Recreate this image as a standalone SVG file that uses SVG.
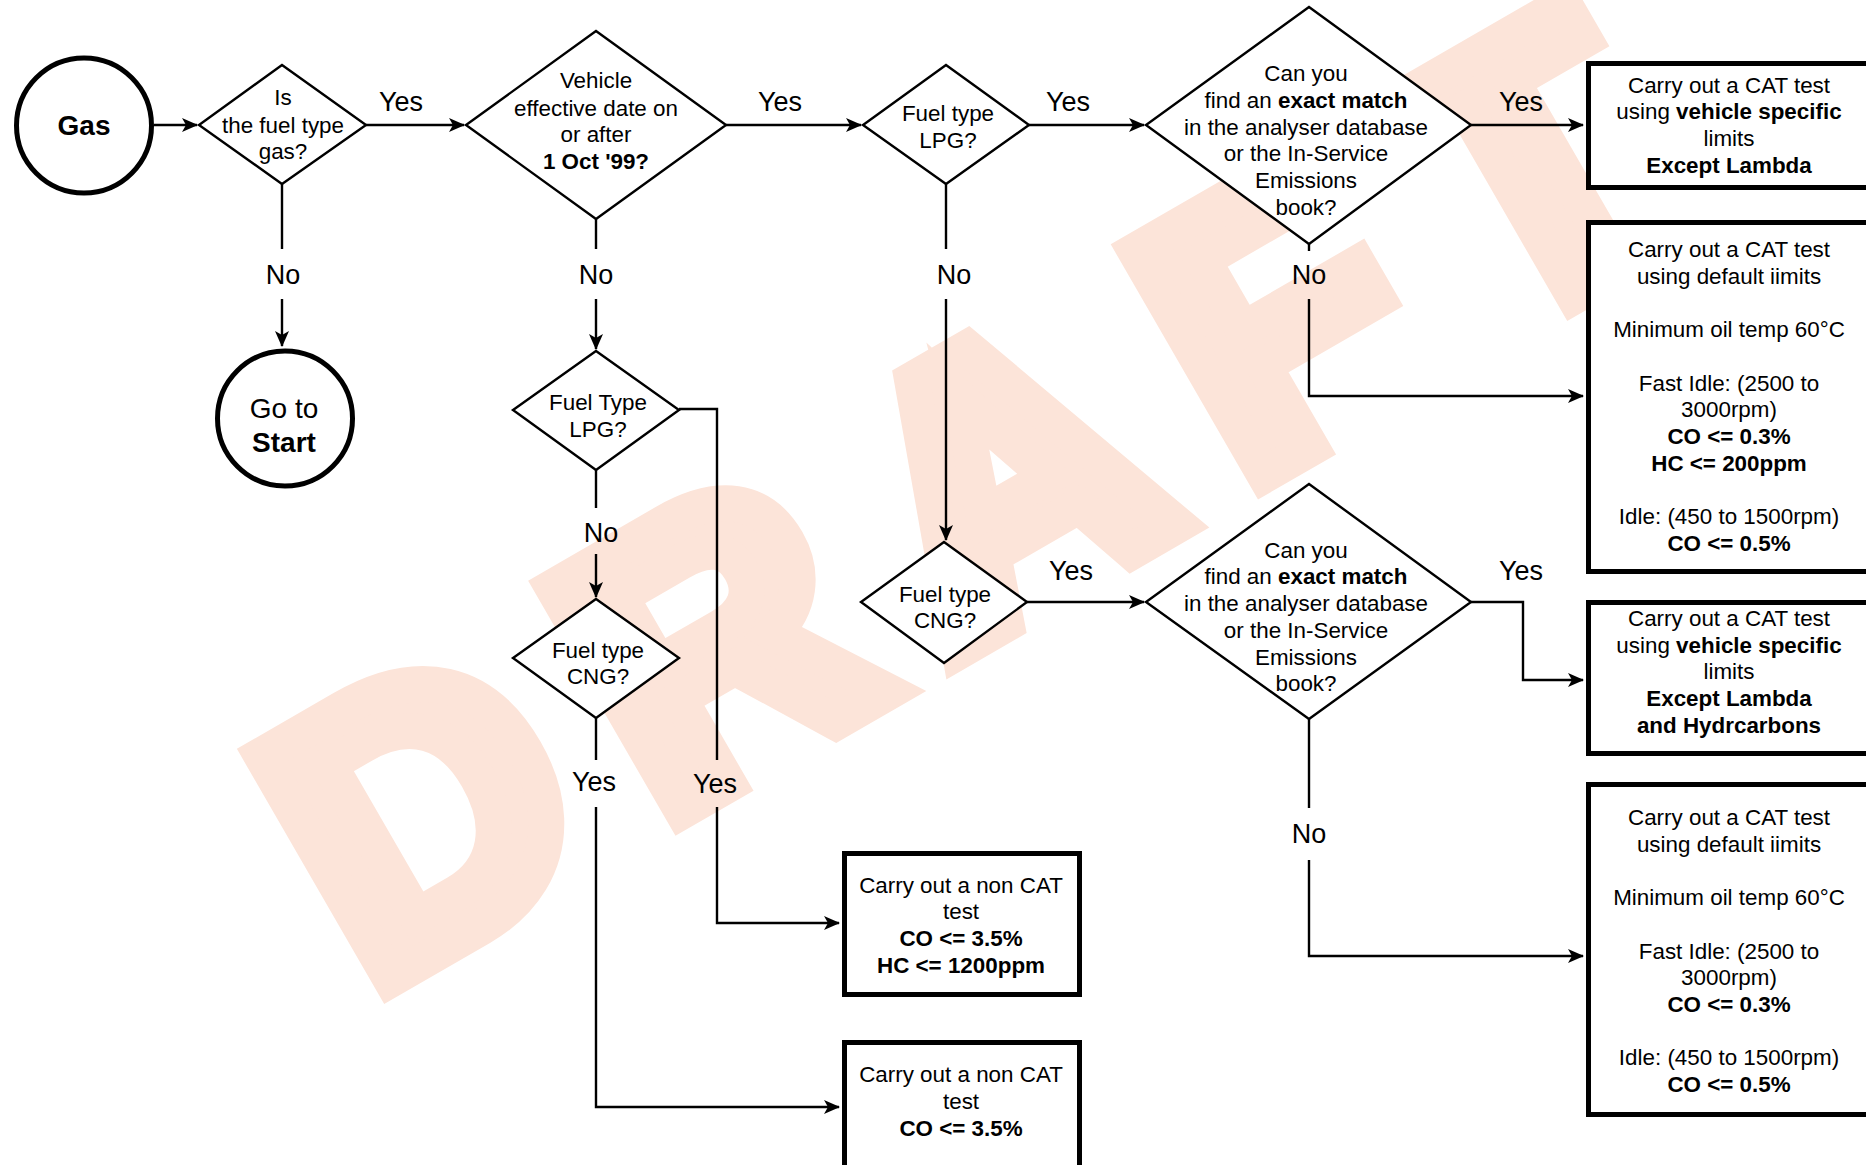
<svg xmlns="http://www.w3.org/2000/svg" width="1866" height="1165" viewBox="0 0 1866 1165">
<defs>
<style>
text{font-family:"Liberation Sans",Arial,Helvetica,sans-serif;fill:#000;text-anchor:middle}
.t{font-size:22.4px}
.lbl{font-size:27px}
.big{font-size:28px}
.b{font-weight:bold}
.dia{fill:#fff;stroke:#000;stroke-width:2.4}
.circ{fill:#fff;stroke:#000;stroke-width:5}
.box{fill:#fff;stroke:#000;stroke-width:5}
.conn path{fill:none;stroke:#000;stroke-width:2.4}
.wm{font-size:376px;font-weight:bold;fill:#fce4d9;stroke:#fce4d9;stroke-width:36;stroke-linejoin:miter;text-anchor:start;letter-spacing:64.8px}
</style>
<marker id="arr" viewBox="0 0 16 14" refX="15" refY="7" markerWidth="16" markerHeight="14" markerUnits="userSpaceOnUse" orient="auto">
<path d="M0,0 L16,7 L0,14 L4,7 Z" fill="#000"/>
</marker>
</defs>
<rect width="1866" height="1165" fill="#fff"/>
<text class="wm" transform="translate(369,992) rotate(-30)">DRAFT</text>

<g class="conn">
<path d="M154,125 H197" marker-end="url(#arr)"/>
<path d="M366,125 H464" marker-end="url(#arr)"/>
<path d="M726,125 H861" marker-end="url(#arr)"/>
<path d="M1029,125 H1144" marker-end="url(#arr)"/>
<path d="M1471,125 H1583" marker-end="url(#arr)"/>
<path d="M282,184 V249"/>
<path d="M282,299 V346" marker-end="url(#arr)"/>
<path d="M596,219 V249"/>
<path d="M596,299 V349" marker-end="url(#arr)"/>
<path d="M946,184 V249"/>
<path d="M946,299 V540" marker-end="url(#arr)"/>
<path d="M1309,244 V251"/>
<path d="M1309,299 V396 H1583" marker-end="url(#arr)"/>
<path d="M679,409 H717 V760"/>
<path d="M717,807 V923 H839" marker-end="url(#arr)"/>
<path d="M596,470 V508"/>
<path d="M596,554 V597" marker-end="url(#arr)"/>
<path d="M596,718 V760"/>
<path d="M596,807 V1107 H839" marker-end="url(#arr)"/>
<path d="M1027,602 H1144" marker-end="url(#arr)"/>
<path d="M1471,602 H1523 V680 H1583" marker-end="url(#arr)"/>
<path d="M1309,719 V808"/>
<path d="M1309,860 V956 H1583" marker-end="url(#arr)"/>
</g>

<g id="labels">
<text class="lbl" x="401" y="111">Yes</text>
<text class="lbl" x="780" y="111">Yes</text>
<text class="lbl" x="1068" y="111">Yes</text>
<text class="lbl" x="1521" y="111">Yes</text>
<text class="lbl" x="283" y="284">No</text>
<text class="lbl" x="596" y="284">No</text>
<text class="lbl" x="954" y="284">No</text>
<text class="lbl" x="1309" y="284">No</text>
<text class="lbl" x="601" y="542">No</text>
<text class="lbl" x="594" y="791">Yes</text>
<text class="lbl" x="715" y="793">Yes</text>
<text class="lbl" x="1071" y="580">Yes</text>
<text class="lbl" x="1521" y="580">Yes</text>
<text class="lbl" x="1309" y="843">No</text>
</g>

<g id="gas">
<circle class="circ" cx="84" cy="125.5" r="67.5"/>
<text class="big b" x="84" y="135">Gas</text>
</g>

<g id="start">
<circle class="circ" cx="285" cy="418.5" r="67.5"/>
<text class="big" x="284" y="418">Go to</text>
<text class="big b" x="284" y="452">Start</text>
</g>

<g id="q-gas">
<polygon class="dia" points="282,65 366,125 282,184 199,125"/>
<text class="t" x="283" y="105">Is</text>
<text class="t" x="283" y="133">the fuel type</text>
<text class="t" x="283" y="159">gas?</text>
</g>

<g id="q-date">
<polygon class="dia" points="596,31 726,125 596,219 466,125"/>
<text class="t" x="596" y="88">Vehicle</text>
<text class="t" x="596" y="116">effective date on</text>
<text class="t" x="596" y="142">or after</text>
<text class="t b" x="596" y="169">1 Oct '99?</text>
</g>

<g id="q-lpg1">
<polygon class="dia" points="946,65 1029,125 946,184 863,125"/>
<text class="t" x="948" y="121">Fuel type</text>
<text class="t" x="948" y="148">LPG?</text>
</g>

<g id="q-match1">
<polygon class="dia" points="1309,7 1471,125 1309,244 1146,125"/>
<text class="t" x="1306" y="81">Can you</text>
<text class="t" x="1306" y="108">find an <tspan class="b">exact match</tspan></text>
<text class="t" x="1306" y="135">in the analyser database</text>
<text class="t" x="1306" y="161">or the In-Service</text>
<text class="t" x="1306" y="188">Emissions</text>
<text class="t" x="1306" y="215">book?</text>
</g>

<g id="q-lpg2">
<polygon class="dia" points="596,351 679,410 596,470 513,410"/>
<text class="t" x="598" y="410">Fuel Type</text>
<text class="t" x="598" y="437">LPG?</text>
</g>

<g id="q-cng2">
<polygon class="dia" points="596,599 679,658 596,718 513,658"/>
<text class="t" x="598" y="658">Fuel type</text>
<text class="t" x="598" y="684">CNG?</text>
</g>

<g id="q-cng1">
<polygon class="dia" points="944,542 1027,602 944,663 861,602"/>
<text class="t" x="945" y="602">Fuel type</text>
<text class="t" x="945" y="628">CNG?</text>
</g>

<g id="q-match2">
<polygon class="dia" points="1309,484 1471,602 1309,719 1146,602"/>
<text class="t" x="1306" y="558">Can you</text>
<text class="t" x="1306" y="584">find an <tspan class="b">exact match</tspan></text>
<text class="t" x="1306" y="611">in the analyser database</text>
<text class="t" x="1306" y="638">or the In-Service</text>
<text class="t" x="1306" y="665">Emissions</text>
<text class="t" x="1306" y="691">book?</text>
</g>

<g id="box-specific">
<rect class="box" x="1588.5" y="63.5" width="281" height="124"/>
<text class="t" x="1729" y="93">Carry out a CAT test</text>
<text class="t" x="1729" y="119">using <tspan class="b">vehicle specific</tspan></text>
<text class="t" x="1729" y="146">limits</text>
<text class="t b" x="1729" y="173">Except Lambda</text>
</g>

<g id="box-default1">
<rect class="box" x="1588.5" y="222.5" width="281" height="349"/>
<text class="t" x="1729" y="257">Carry out a CAT test</text>
<text class="t" x="1729" y="284">using default iimits</text>
<text class="t" x="1729" y="337">Minimum oil temp 60°C</text>
<text class="t" x="1729" y="391">Fast Idle: (2500 to</text>
<text class="t" x="1729" y="417">3000rpm)</text>
<text class="t b" x="1729" y="444">CO &lt;= 0.3%</text>
<text class="t b" x="1729" y="471">HC &lt;= 200ppm</text>
<text class="t" x="1729" y="524">Idle: (450 to 1500rpm)</text>
<text class="t b" x="1729" y="551">CO &lt;= 0.5%</text>
</g>

<g id="box-specific2">
<rect class="box" x="1588.5" y="602.5" width="281" height="151"/>
<text class="t" x="1729" y="626">Carry out a CAT test</text>
<text class="t" x="1729" y="653">using <tspan class="b">vehicle specific</tspan></text>
<text class="t" x="1729" y="679">limits</text>
<text class="t b" x="1729" y="706">Except Lambda</text>
<text class="t b" x="1729" y="733">and Hydrcarbons</text>
</g>

<g id="box-default2">
<rect class="box" x="1588.5" y="784.5" width="281" height="330"/>
<text class="t" x="1729" y="825">Carry out a CAT test</text>
<text class="t" x="1729" y="852">using default iimits</text>
<text class="t" x="1729" y="905">Minimum oil temp 60°C</text>
<text class="t" x="1729" y="959">Fast Idle: (2500 to</text>
<text class="t" x="1729" y="985">3000rpm)</text>
<text class="t b" x="1729" y="1012">CO &lt;= 0.3%</text>
<text class="t" x="1729" y="1065">Idle: (450 to 1500rpm)</text>
<text class="t b" x="1729" y="1092">CO &lt;= 0.5%</text>
</g>

<g id="box-noncat1">
<rect class="box" x="844.5" y="853.5" width="235" height="141"/>
<text class="t" x="961" y="893">Carry out a non CAT</text>
<text class="t" x="961" y="919">test</text>
<text class="t b" x="961" y="946">CO &lt;= 3.5%</text>
<text class="t b" x="961" y="973">HC &lt;= 1200ppm</text>
</g>

<g id="box-noncat2">
<rect class="box" x="844.5" y="1042.5" width="235" height="130"/>
<text class="t" x="961" y="1082">Carry out a non CAT</text>
<text class="t" x="961" y="1109">test</text>
<text class="t b" x="961" y="1136">CO &lt;= 3.5%</text>
</g>
</svg>
